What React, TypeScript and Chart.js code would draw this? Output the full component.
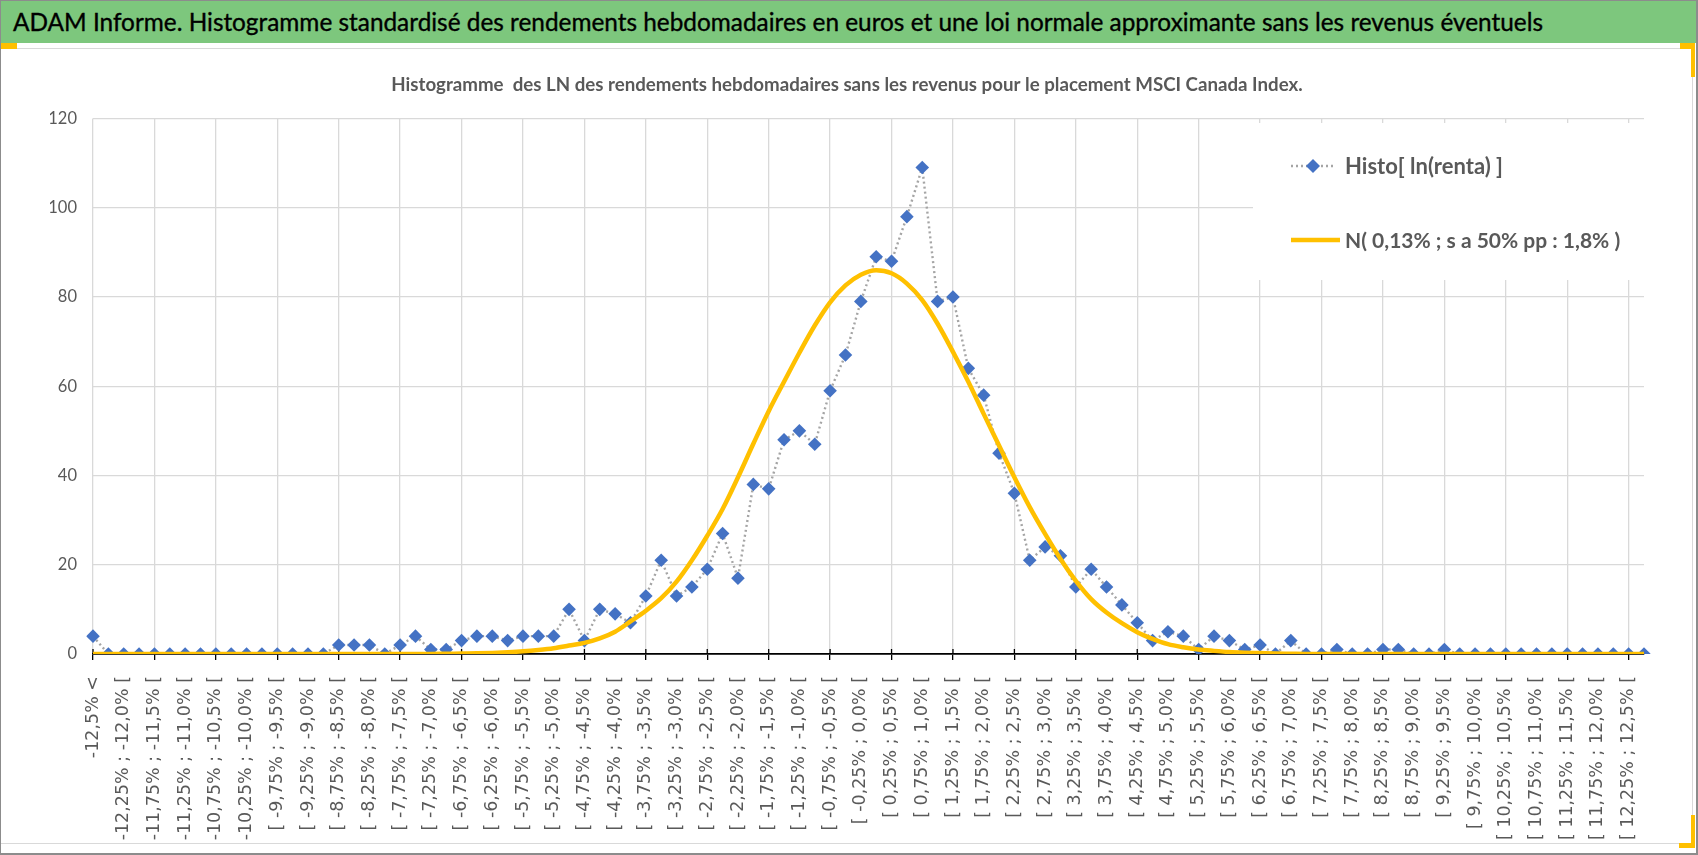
import React, { useEffect, useLayoutEffect, useRef } from 'react'
import { Chart, registerables } from 'chart.js'

Chart.register(...registerables)

// bin edges of the weekly log-returns (0,25 % wide bins)
const binEdges = [
	'-12,5%', '-12,25%', '-12,0%', '-11,75%', '-11,5%', '-11,25%', '-11,0%', '-10,75%', '-10,5%', '-10,25%',
	'-10,0%', '-9,75%', '-9,5%', '-9,25%', '-9,0%', '-8,75%', '-8,5%', '-8,25%', '-8,0%', '-7,75%',
	'-7,5%', '-7,25%', '-7,0%', '-6,75%', '-6,5%', '-6,25%', '-6,0%', '-5,75%', '-5,5%', '-5,25%',
	'-5,0%', '-4,75%', '-4,5%', '-4,25%', '-4,0%', '-3,75%', '-3,5%', '-3,25%', '-3,0%', '-2,75%',
	'-2,5%', '-2,25%', '-2,0%', '-1,75%', '-1,5%', '-1,25%', '-1,0%', '-0,75%', '-0,5%', '-0,25%',
	'0,0%', '0,25%', '0,5%', '0,75%', '1,0%', '1,25%', '1,5%', '1,75%', '2,0%', '2,25%',
	'2,5%', '2,75%', '3,0%', '3,25%', '3,5%', '3,75%', '4,0%', '4,25%', '4,5%', '4,75%',
	'5,0%', '5,25%', '5,5%', '5,75%', '6,0%', '6,25%', '6,5%', '6,75%', '7,0%', '7,25%',
	'7,5%', '7,75%', '8,0%', '8,25%', '8,5%', '8,75%', '9,0%', '9,25%', '9,5%', '9,75%',
	'10,0%', '10,25%', '10,5%', '10,75%', '11,0%', '11,25%', '11,5%', '11,75%', '12,0%', '12,25%',
	'12,5%',
]

const categories = [
	'-12,5% <',
	...binEdges.slice(0, -1).map((edge, i) => `[ ${edge} ; ${binEdges[i + 1]} [`),
	'12,5% >=',
]

const histoCounts = [
	4, 0, 0, 0, 0, 0, 0, 0, 0, 0,
	0, 0, 0, 0, 0, 0, 2, 2, 2, 0,
	2, 4, 1, 1, 3, 4, 4, 3, 4, 4,
	4, 10, 3, 10, 9, 7, 13, 21, 13, 15,
	19, 27, 17, 38, 37, 48, 50, 47, 59, 67,
	79, 89, 88, 98, 109, 79, 80, 64, 58, 45,
	36, 21, 24, 22, 15, 19, 15, 11, 7, 3,
	5, 4, 1, 4, 3, 1, 2, 0, 3, 0,
	0, 1, 0, 0, 1, 1, 0, 0, 1, 0,
	0, 0, 0, 0, 0, 0, 0, 0, 0, 0,
	0, 0,
]

const normalCurve = [
	0, 0, 0, 0, 0, 0, 0, 0, 0, 0,
	0, 0, 0, 0, 0, 0, 0, 0, 0, 0,
	0, 0, 0, 0.05, 0.1, 0.15, 0.25, 0.4, 0.6, 0.9,
	1.3, 1.9, 2.5, 3.5, 5.0, 7.3, 9.7, 12.5, 16.2, 21.0,
	26.5, 32.5, 39.6, 47.1, 54.4, 61.0, 67.5, 73.6, 78.8, 82.6,
	85.0, 86.0, 85.3, 83.0, 79.3, 74.0, 67.7, 61.0, 53.8, 46.7,
	39.6, 32.9, 26.9, 21.3, 16.4, 12.3, 9.3, 6.9, 4.9, 3.4,
	2.2, 1.5, 1.0, 0.7, 0.45, 0.3, 0.2, 0.1, 0.05, 0,
	0, 0, 0, 0, 0, 0, 0, 0, 0, 0,
	0, 0, 0, 0, 0, 0, 0, 0, 0, 0,
	0, 0,
]

const histoLabel = 'Histo[ ln(renta) ]'
const normalLabel = 'N( 0,13% ; s a 50% pp : 1,8% )'
const pageTitle =
	'ADAM Informe. Histogramme standardisé des rendements hebdomadaires en euros et une loi normale approximante sans les revenus éventuels'
const chartTitle =
	'Histogramme  des LN des rendements hebdomadaires sans les revenus pour le placement MSCI Canada Index.'

const lato = "Lato, 'DejaVu Sans Condensed', sans-serif"
const grey = '#595959'
const blue = '#4472C4'
const yellow = '#FFC000'
const dots = '#A5A5A5'

const insideLegend = {
	id: 'insideLegend',
	beforeDatasetsDraw(chart: Chart) {
		// upper half of the "cross" tick marks
		const ctx = chart.ctx
		const xScale = chart.scales.x
		const bottom = chart.chartArea.bottom
		ctx.save()
		ctx.strokeStyle = '#000'
		ctx.lineWidth = 1.3
		for (let i = 0; i < categories.length; i += 4) {
			const px = xScale.getPixelForTick(i)
			ctx.beginPath()
			ctx.moveTo(px, bottom - 5)
			ctx.lineTo(px, bottom)
			ctx.stroke()
		}
		ctx.restore()
	},
	afterDraw(chart: Chart) {
		const ctx = chart.ctx
		ctx.save()
		ctx.fillStyle = '#fff'
		ctx.fillRect(1253, 73, 393, 157)

		ctx.strokeStyle = dots
		ctx.lineWidth = 2.4
		ctx.setLineDash([2, 3])
		ctx.beginPath()
		ctx.moveTo(1291, 116)
		ctx.lineTo(1334, 116)
		ctx.stroke()
		ctx.setLineDash([])
		ctx.fillStyle = blue
		ctx.beginPath()
		ctx.moveTo(1313 - 7, 116)
		ctx.lineTo(1313, 109)
		ctx.lineTo(1313 + 7, 116)
		ctx.lineTo(1313, 123)
		ctx.closePath()
		ctx.fill()

		ctx.strokeStyle = yellow
		ctx.lineWidth = 4.5
		ctx.beginPath()
		ctx.moveTo(1291, 190)
		ctx.lineTo(1340, 190)
		ctx.stroke()

		ctx.fillStyle = grey
		ctx.textBaseline = 'middle'
		ctx.font = `bold 22px ${lato}`
		ctx.fillText(histoLabel, 1345, 117)
		ctx.font = `bold 21px ${lato}`
		ctx.fillText(normalLabel, 1345, 191)
		ctx.restore()
	},
}

function HistoChart() {
	const refCanvas = useRef<HTMLCanvasElement>(null)

	useEffect(() => {
		let chart: Chart | undefined
		if (refCanvas.current) {
			chart = new Chart(refCanvas.current, {
				type: 'line',
				data: {
					labels: categories,
					datasets: [
						{
							label: normalLabel,
							data: normalCurve,
							borderColor: yellow,
							backgroundColor: yellow,
							borderWidth: 4.5,
							pointRadius: 0,
							cubicInterpolationMode: 'monotone',
							order: 0,
						},
						{
							label: histoLabel,
							data: histoCounts,
							borderColor: dots,
							borderWidth: 2.4,
							borderDash: [2, 3],
							tension: 0,
							pointStyle: 'rectRot',
							pointRadius: 6.8,
							pointBackgroundColor: blue,
							pointBorderColor: blue,
							pointBorderWidth: 0,
							order: 1,
						},
					],
				},
				options: {
					responsive: false,
					animation: false,
					layout: { padding: { left: 50, right: 54, top: 0, bottom: 0 } },
					plugins: {
						legend: { display: false },
						tooltip: { enabled: false },
						title: {
							display: true,
							text: chartTitle,
							color: grey,
							font: { family: lato, size: 18.7, weight: 'bold' },
							padding: { top: 24, bottom: 22 },
						},
					},
					scales: {
						x: {
							offset: false,
							afterFit: (scale) => {
								scale.height = 189
							},
							grid: {
								color: (c) => (c.index % 4 === 0 ? '#d9d9d9' : 'rgba(0,0,0,0)'),
								tickColor: (c) => (c.index % 4 === 0 ? '#000' : 'rgba(0,0,0,0)'),
								lineWidth: 1.3,
								tickLength: 6,
							},
							border: { display: true, color: '#000', width: 1.8 },
							ticks: {
								autoSkip: false,
								minRotation: 90,
								maxRotation: 90,
								padding: 16,
								color: grey,
								font: { family: "'DejaVu Sans', sans-serif", size: 17.5 },
								callback: (_v, i) => (i % 2 === 0 ? categories[i] : ''),
							},
						},
						y: {
							min: 0,
							max: 120,
							afterFit: (scale) => {
								scale.width = 43
							},
							grid: { color: '#d9d9d9', lineWidth: 1.3, drawTicks: false },
							border: { display: false },
							ticks: {
								stepSize: 20,
								padding: 16,
								color: grey,
								font: { family: lato, size: 16.5 },
							},
						},
					},
				},
				plugins: [insideLegend],
			})
		}
		return () => chart?.destroy()
	}, [])

	return <canvas aria-label="histogramme" ref={refCanvas} width={1698} height={793} />
}

export default function App() {
	const refTitle = useRef<HTMLDivElement>(null)

	useEffect(() => {
		document.body.style.margin = '0'
	}, [])

	// squeeze the banner title to the width it has in the original
	useLayoutEffect(() => {
		const el = refTitle.current
		if (el) {
			const w = el.getBoundingClientRect().width
			if (w > 0) el.style.transform = `scaleX(${1530 / w})`
		}
	}, [])

	const abs = (s: React.CSSProperties): React.CSSProperties => ({ position: 'absolute', ...s })

	return (
		<div style={{ position: 'relative', width: 1698, height: 855, overflow: 'hidden', background: '#fff' }}>
			<div style={abs({ left: 1, top: 48, width: 1691, height: 794, border: '1.5px solid #d9d9d9', borderLeft: 'none' })} />
			<div style={abs({ left: 0, top: 50, width: 1698, height: 793 })}>
				<HistoChart />
			</div>
			<div style={abs({ left: 1, top: 0, width: 1695, height: 43, background: '#7dc77d' })} />
			<div
				ref={refTitle}
				style={abs({
					left: 13,
					top: 0,
					height: 43,
					lineHeight: '43px',
					fontFamily: lato,
					fontSize: 24.5,
					color: '#000',
					whiteSpace: 'nowrap',
					transformOrigin: 'left center',
					WebkitTextStroke: '0.35px #000',
				})}
			>
				{pageTitle}
			</div>
			<div style={abs({ left: 1, top: 43, width: 16, height: 6, background: yellow })} />
			<div style={abs({ left: 1680, top: 43, width: 15, height: 6, background: yellow })} />
			<div style={abs({ left: 1691, top: 43, width: 4, height: 34, background: yellow })} />
			<div style={abs({ left: 1691, top: 815, width: 4, height: 33, background: yellow })} />
			<div style={abs({ left: 1679, top: 843, width: 16, height: 5, background: yellow })} />
			<div style={abs({ left: 0, top: 0, width: 1, height: 855, background: '#8c8c8c' })} />
			<div style={abs({ left: 1696, top: 0, width: 2, height: 855, background: '#8c8c8c' })} />
			<div style={abs({ left: 0, top: 0, width: 1698, height: 1, background: '#8c8c8c' })} />
			<div style={abs({ left: 0, top: 853, width: 1698, height: 2, background: '#8c8c8c' })} />
		</div>
	)
}
